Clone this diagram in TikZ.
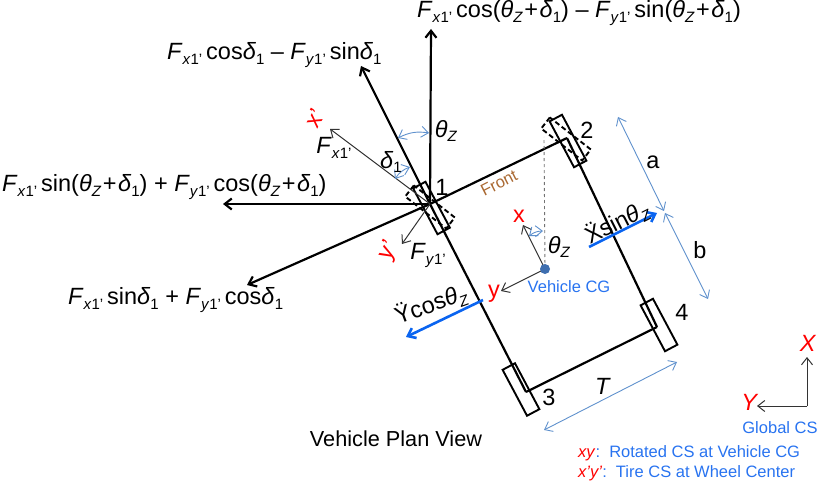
\documentclass[tikz,border=0pt]{standalone}
\usepackage{fontspec}
\setmainfont{Liberation Sans}
\usepackage{xcolor}
\usetikzlibrary{arrows.meta, positioning, calc}
\definecolor{labelblue}{RGB}{40,115,240}
\definecolor{dimblue}{RGB}{95,145,205}
\definecolor{accelblue}{RGB}{10,100,240}
\definecolor{dotblue}{RGB}{62,110,175}
\definecolor{frontbrown}{RGB}{170,105,50}
\newcommand{\sz}[1]{\fontsize{#1}{#1}\selectfont}
\newcommand{\subs}[1]{\raisebox{-0.4ex}{\sz{15}#1}}
\newcommand{\Fxi}{\textit{F}\subs{\textit{x}1'}}
\newcommand{\Fyi}{\textit{F}\subs{\textit{y}1'}}
\newcommand{\dlt}{\textit{δ}\subs{1}}
\newcommand{\thz}{\textit{θ}\subs{\textit{Z}}}
\newcommand{\plusz}{\kern1.5pt+\kern1.5pt}
\tikzset{
    every node/.style={inner sep=0pt, font=\sz{23.5}},
    force/.style={-{Straight Barb[length=7pt,width=11pt]}, line width=2.2pt},
    thinvec/.style={-{Straight Barb[length=7pt,width=11pt]}, line width=1pt, black!80},
    accel/.style={-{Straight Barb[length=7pt,width=11pt]}, line width=2.6pt, accelblue},
    dimline/.style={{Straight Barb[length=7pt,width=11pt]}-{Straight Barb[length=7pt,width=11pt]}, line width=0.9pt, dimblue},
    chassis/.style={line width=2.2pt},
    wheel/.style={draw, line width=1.9pt, minimum width=14pt, minimum height=52pt},
    steered/.style={wheel, dashed, dash pattern=on 5pt off 3pt},
    redlabel/.style={text=red},
    bluelabel/.style={text=labelblue, font=\sz{16.5}}
}
\begin{document}
\begin{tikzpicture}[x=1pt,y=-1pt]
    \useasboundingbox (0,0) rectangle (820,484);
    % Axle and side line ends
    \coordinate (hub1) at (430,204);
    \coordinate (hub2) at (567,138);
    \coordinate (hub3) at (526,392);
    \coordinate (hub4) at (657,327);
    \coordinate (cg) at (545,269);
    % Wheels
    \node[wheel, rotate=28] (wheel1) at (431.5,208) {};
    \node[wheel, rotate=28] (wheel2) at (568,141) {};
    \node[wheel, rotate=28] (wheel3) at (521,389.5) {};
    \node[wheel, rotate=28] (wheel4) at (659,325) {};
    \node[steered, rotate=52] (steer1) at (430,207) {};
    \node[steered, rotate=52] (steer2) at (566,139) {};
    % Chassis
    \draw[chassis] (hub1) -- (hub2);
    \draw[chassis] (hub1) -- (hub3);
    \draw[chassis] (hub2) -- (hub4);
    \draw[chassis] (hub3) -- (hub4);
    % Forces at wheel 1
    \coordinate (tipUp) at (431,29);
    \coordinate (tipLong) at (361,66);
    \coordinate (tipLeft) at (223,204);
    \coordinate (tipLat) at (247,285);
    \coordinate (tipXp) at (330,129);
    \coordinate (tipYp) at (402,244);
    \draw[force] (hub1) -- (tipUp);
    \draw[force] (hub1) -- (tipLong);
    \draw[force] (hub1) -- (tipLeft);
    \draw[force] (hub1) -- (tipLat);
    \draw[thinvec] (hub1) -- (tipXp);
    \draw[thinvec] (hub1) -- (tipYp);
    % Vehicle CG axes
    \coordinate (tipX) at (523,225);
    \coordinate (tipY) at (501,291);
    \coordinate (topDash) at (544,137);
    \draw[thinvec] (cg) -- (tipX);
    \draw[thinvec] (cg) -- (tipY);
    \draw[dashed, line width=0.9pt, black!55] (cg) -- (topDash);
    \fill[dotblue] (cg) circle (5pt);
    % Accelerations
    \coordinate (xaStart) at (589,247);
    \coordinate (xaEnd) at (657,213);
    \coordinate (yaStart) at (483,300);
    \coordinate (yaEnd) at (406,337);
    \draw[accel] (xaStart) -- (xaEnd);
    \draw[accel] (yaStart) -- (yaEnd);
    % Dimensions
    \coordinate (aTop) at (618,117);
    \coordinate (aEnd) at (664,211);
    \coordinate (bTop) at (665,213);
    \coordinate (bEnd) at (708,299);
    \coordinate (tRight) at (677,362);
    \coordinate (tLeft) at (544,430);
    \draw[dimline] (aTop) -- (aEnd);
    \draw[dimline] (bTop) -- (bEnd);
    \draw[dimline] (tRight) -- (tLeft);
    % Angle arcs
    \coordinate (thA) at (398,138);
    \coordinate (thB) at (429,133);
    \coordinate (dlA) at (395,179);
    \coordinate (dlB) at (410,167);
    \coordinate (cgA) at (529,236);
    \coordinate (cgB) at (543,231);
    \draw[dimline] (thA) to[bend left=18] (thB);
    \draw[dimline] (dlA) to[bend left=18] (dlB);
    \draw[dimline] (cgA) to[bend left=18] (cgB);
    % Global CS
    \coordinate (gcs) at (807,406);
    \coordinate (gcsX) at (807,357);
    \coordinate (gcsY) at (757,406);
    \draw[thinvec] (gcs) -- (gcsX);
    \draw[thinvec] (gcs) -- (gcsY);
    % Force expressions
    \node[anchor=west] (exprUp) at (417,13) {\Fxi\,cos(\thz\plusz\dlt) – \Fyi\,sin(\thz\plusz\dlt)};
    \node[anchor=west] (exprLong) at (167,55) {\Fxi\,cos\dlt{} – \Fyi\,sin\dlt};
    \node[anchor=west] (exprLeft) at (2,187) {\Fxi\,sin(\thz\plusz\dlt) + \Fyi\,cos(\thz\plusz\dlt)};
    \node[anchor=west] (exprLat) at (68,300) {\Fxi\,sin\dlt{} + \Fyi\,cos\dlt};
    % Tire and CS labels
    \node (lblFx) at (334,148) {\Fxi};
    \node (lblFy) at (428,255) {\Fyi};
    \node (lblDelta) at (391,162) {\dlt};
    \node (lblThTop) at (446,131) {\thz};
    \node (lblThCg) at (559,247) {\thz};
    \node[redlabel, rotate=60] (lblXp) at (315,118) {x'};
    \node[redlabel, rotate=60] (lblYp) at (389,251) {y'};
    \node[redlabel] (lblX) at (519,216) {x};
    \node[redlabel] (lblY) at (494,294) {y};
    \node[redlabel] (lblGX) at (808,343) {\textit{X}};
    \node[redlabel] (lblGY) at (750,402) {\textit{Y}};
    % Wheel numbers and sizes
    \node (num1) at (442,187) {1};
    \node (num2) at (587,130) {2};
    \node (num3) at (549,397) {3};
    \node (num4) at (682,312) {4};
    \node (lblA) at (653,162) {a};
    \node (lblB) at (700,250) {b};
    \node (lblT) at (603,386) {\textit{T}};
    \node[font=\sz{16.5}, text=frontbrown, rotate=27] (lblFront) at (499,183) {Front};
    \node[rotate=27] (lblXsin) at (617,223) {\"Xsin\thz};
    \node[rotate=20] (lblYcos) at (431,305) {\"Ycos\thz};
    % Captions
    \node[bluelabel] (lblCg) at (569,287) {Vehicle CG};
    \node[bluelabel] (lblGlobal) at (780,428) {Global CS};
    \node[font=\sz{21.7}] (lblPlan) at (396,439) {Vehicle Plan View};
    \node[bluelabel, anchor=west] (lblXy) at (578,453) {\textcolor{red}{\textit{xy}}:\ \ Rotated CS at Vehicle CG};
    \node[bluelabel, anchor=west] (lblTire) at (578,473) {\textcolor{red}{\textit{x'y'}}:\ \ Tire CS at Wheel Center};
\end{tikzpicture}
\end{document}
